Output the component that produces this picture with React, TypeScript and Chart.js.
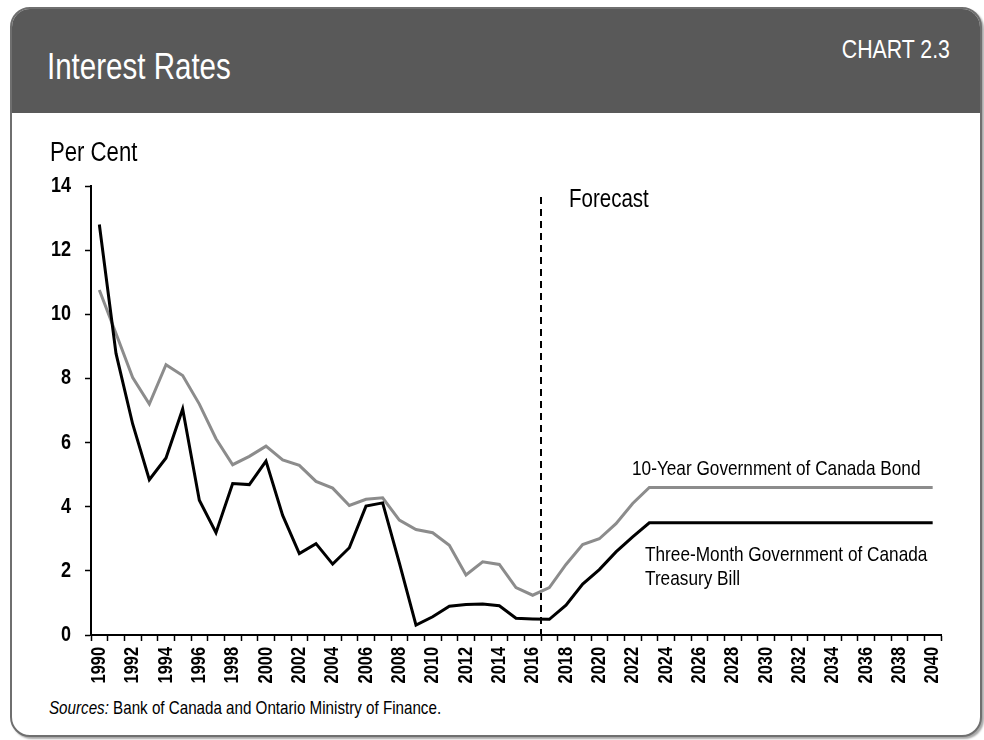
import React, { useEffect, useRef } from 'react';
import { Chart, registerables } from 'chart.js';

Chart.register(...registerables);

const years: string[] = [
  '1990', '1991', '1992', '1993', '1994', '1995', '1996', '1997', '1998', '1999',
  '2000', '2001', '2002', '2003', '2004', '2005', '2006', '2007', '2008', '2009',
  '2010', '2011', '2012', '2013', '2014', '2015', '2016', '2017', '2018', '2019',
  '2020', '2021', '2022', '2023', '2024', '2025', '2026', '2027', '2028', '2029',
  '2030', '2031', '2032', '2033', '2034', '2035', '2036', '2037', '2038', '2039',
  '2040',
];

const bondValues: number[] = [
  10.76, 9.4, 8.03, 7.2, 8.43, 8.09, 7.2, 6.12, 5.31, 5.57,
  5.89, 5.46, 5.29, 4.79, 4.58, 4.04, 4.23, 4.28, 3.58, 3.29,
  3.19, 2.8, 1.87, 2.28, 2.2, 1.48, 1.24, 1.48, 2.2, 2.82,
  3.0, 3.47, 4.1, 4.6, 4.6, 4.6, 4.6, 4.6, 4.6, 4.6,
  4.6, 4.6, 4.6, 4.6, 4.6, 4.6, 4.6, 4.6, 4.6, 4.6,
  4.6,
];

const tbillValues: number[] = [
  12.8, 8.78, 6.58, 4.84, 5.52, 7.05, 4.2, 3.19, 4.72, 4.69,
  5.42, 3.73, 2.54, 2.85, 2.21, 2.72, 4.02, 4.12, 2.25, 0.31,
  0.57, 0.9, 0.95, 0.97, 0.91, 0.52, 0.5, 0.49, 0.93, 1.59,
  2.04, 2.59, 3.06, 3.5, 3.5, 3.5, 3.5, 3.5, 3.5, 3.5,
  3.5, 3.5, 3.5, 3.5, 3.5, 3.5, 3.5, 3.5, 3.5, 3.5,
  3.5,
];

const yTickMin = 0;
const yTickMax = 14;
const yTickStep = 2;
const forecastStartYear = '2017';

const bondLabel = '10-Year Government of Canada Bond';
const tbillLabelLines = ['Three-Month Government of Canada', 'Treasury Bill'];

const FONT = "'Liberation Sans', Arial, sans-serif";
const NARROW = 0.82;

// Draw all canvas text horizontally condensed (Arial Narrow look) around its anchor point.
const narrowTextPlugin = {
  id: 'narrowText',
  beforeDraw(chart: any) {
    const ctx = chart.ctx as any;
    if (ctx.__origFillText) return;
    const orig = ctx.fillText;
    ctx.__origFillText = orig;
    ctx.fillText = function (text: string, x: number, y: number, maxWidth?: number) {
      this.save();
      this.translate(x, y);
      this.scale(NARROW, 1);
      if (maxWidth !== undefined) orig.call(this, text, 0, 0, maxWidth / NARROW);
      else orig.call(this, text, 0, 0);
      this.restore();
    };
  },
  afterDraw(chart: any) {
    const ctx = chart.ctx as any;
    if (ctx.__origFillText) {
      ctx.fillText = ctx.__origFillText;
      delete ctx.__origFillText;
    }
  },
};

const annotationPlugin = {
  id: 'annotations',
  afterDatasetsDraw(chart: any) {
    const { ctx, chartArea, scales } = chart;
    const xs = scales.x;
    const idx = years.indexOf(forecastStartYear);
    const xLine = (xs.getPixelForValue(idx - 1) + xs.getPixelForValue(idx)) / 2;
    ctx.save();
    ctx.strokeStyle = '#000';
    ctx.lineWidth = 2;
    ctx.setLineDash([7, 5]);
    ctx.beginPath();
    ctx.moveTo(xLine, chartArea.top + 11);
    ctx.lineTo(xLine, chartArea.bottom);
    ctx.stroke();
    ctx.setLineDash([]);

    ctx.fillStyle = '#000';
    ctx.textBaseline = 'alphabetic';
    ctx.textAlign = 'left';
    ctx.font = `25px ${FONT}`;
    ctx.fillText('Forecast', xLine + 28, 207);
    ctx.font = `21px ${FONT}`;
    ctx.fillText(bondLabel, 632, 475);
    ctx.fillText(tbillLabelLines[0], 645, 561);
    ctx.fillText(tbillLabelLines[1], 645, 585);
    ctx.font = `27px ${FONT}`;
    ctx.fillText('Per Cent', 50, 161);
    ctx.restore();
  },
};

function ChartCanvas() {
  const ref = useRef<HTMLCanvasElement | null>(null);
  useEffect(() => {
    if (!ref.current) return;
    const chart = new Chart(ref.current, {
      type: 'line',
      data: {
        labels: years,
        datasets: [
          {
            label: 'Three-Month Government of Canada Treasury Bill',
            data: tbillValues,
            borderColor: '#000000',
            borderWidth: 3,
            pointRadius: 0,
            tension: 0,
            fill: false,
          },
          {
            label: bondLabel,
            data: bondValues,
            borderColor: '#8c8c8c',
            borderWidth: 3,
            pointRadius: 0,
            tension: 0,
            fill: false,
          },
        ],
      },
      options: {
        animation: false,
        responsive: false,
        maintainAspectRatio: false,
        events: [],
        layout: { padding: { left: 0, right: 43, top: 186, bottom: 45 } },
        plugins: {
          legend: { display: false },
          tooltip: { enabled: false },
        },
        scales: {
          x: {
            type: 'category',
            offset: true,
            grid: {
              display: true,
              offset: true,
              drawOnChartArea: false,
              drawTicks: true,
              tickLength: 6,
              tickColor: '#000',
              tickWidth: 1.5,
            },
            border: { display: true, color: '#000', width: 2 },
            ticks: {
              autoSkip: false,
              minRotation: 90,
              maxRotation: 90,
              padding: 6,
              color: '#000',
              font: { family: FONT, size: 20, weight: 'bold' },
              callback: (_v: any, i: number) => (i % 2 === 0 ? years[i] : ''),
            },
            afterFit: (s: any) => {
              s.height = 60;
            },
          },
          y: {
            min: yTickMin,
            max: yTickMax,
            grid: {
              display: true,
              drawOnChartArea: false,
              drawTicks: true,
              tickLength: 6,
              tickColor: '#000',
              tickWidth: 1.5,
            },
            border: { display: true, color: '#000', width: 2 },
            ticks: {
              stepSize: yTickStep,
              padding: 14,
              color: '#000',
              font: { family: FONT, size: 22, weight: 'bold' },
            },
            afterFit: (s: any) => {
              s.width = 91;
            },
          },
        },
      } as any,
      plugins: [narrowTextPlugin, annotationPlugin],
    });
    return () => chart.destroy();
  }, []);
  return (
    <canvas
      ref={ref}
      width={984}
      height={740}
      style={{ position: 'fixed', left: 0, top: 0, width: 984, height: 740, zIndex: 2 }}
    />
  );
}

const narrowSpan = (origin: string): React.CSSProperties => ({
  display: 'inline-block',
  transform: `scaleX(${NARROW})`,
  transformOrigin: origin,
  whiteSpace: 'nowrap',
});

export default function App() {
  return (
    <div style={{ position: 'fixed', left: 0, top: 0, width: 984, height: 740, background: '#fff' }}>
      <div
        style={{
          position: 'absolute',
          left: 10,
          top: 7,
          width: 972,
          height: 730,
          boxSizing: 'border-box',
          border: '2px solid #6f6f6f',
          borderRadius: 20,
          overflow: 'hidden',
          background: '#fff',
          boxShadow: '2px 2px 2px rgba(0,0,0,0.35)',
          fontFamily: FONT,
        }}
      >
        <div
          style={{
            position: 'absolute',
            left: 0,
            top: 0,
            right: 0,
            height: 104,
            background: '#595959',
          }}
        />
        <div
          style={{
            position: 'absolute',
            left: 35,
            top: 40,
            fontSize: 36,
            lineHeight: '36px',
            color: '#fff',
          }}
        >
          <span style={narrowSpan('left top')}>Interest Rates</span>
        </div>
        <div
          style={{
            position: 'absolute',
            right: 30,
            top: 27,
            fontSize: 26,
            lineHeight: '26px',
            color: '#fff',
            textAlign: 'right',
          }}
        >
          <span style={narrowSpan('right top')}>CHART 2.3</span>
        </div>
        <div
          style={{
            position: 'absolute',
            left: 37,
            top: 690,
            fontSize: 18.5,
            lineHeight: '18px',
            color: '#000',
          }}
        >
          <span style={narrowSpan('left top')}>
            <i>Sources:</i> Bank of Canada and Ontario Ministry of Finance.
          </span>
        </div>
      </div>
      <ChartCanvas />
    </div>
  );
}
